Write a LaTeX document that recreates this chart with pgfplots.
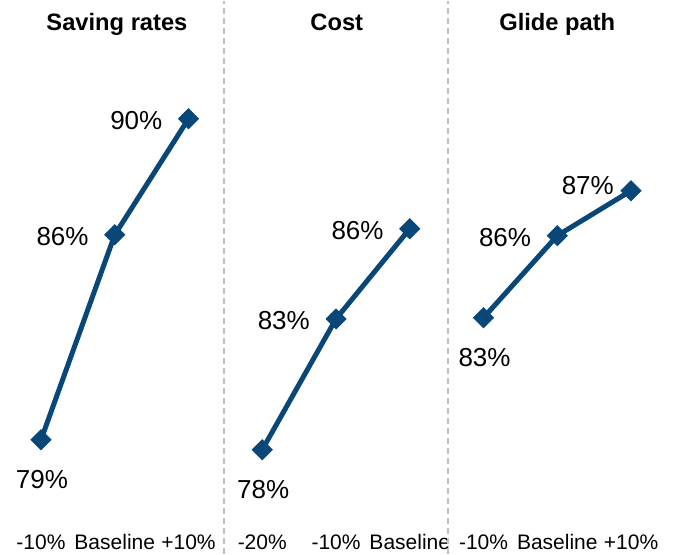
\documentclass[border=0pt]{standalone}
\usepackage{pgfplots}
\pgfplotsset{compat=1.18}
\usepackage{fontspec}
\setmainfont{Liberation Sans}
\definecolor{navy}{HTML}{084777}
\definecolor{sep}{HTML}{BFBFBF}
\begin{document}
\begin{tikzpicture}
\begin{axis}[
  scale only axis, width=687pt, height=553pt,
  xmin=-0.556, xmax=8.759, ymin=74.931, ymax=94.0,
  axis line style={draw=none}, clip=false,
  xtick={0,...,8},
  xticklabels={-10\%,Baseline,+10\%,-20\%,-10\%,Baseline,-10\%,Baseline,+10\%},
  ytick=\empty,
  major tick length=0pt,
  xticklabel style={anchor=base, yshift=4pt, inner sep=0pt, font=\fontsize{21}{25}\selectfont},
  every node near coord/.append style={font=\fontsize{26}{30}\selectfont, inner sep=0pt, text=black},
]
\path (rel axis cs:0,0) rectangle (rel axis cs:1,1);
% separators
\draw[sep, line width=1.5pt, dash pattern=on 6pt off 4pt] (axis cs:2.48,74.931) -- (axis cs:2.48,94.0);
\draw[sep, line width=1.5pt, dash pattern=on 6pt off 4pt] (axis cs:5.52,74.931) -- (axis cs:5.52,94.0);
% titles
\node[anchor=base, font=\fontsize{23.7}{28}\selectfont\bfseries] at (axis cs:1.03,92.97) {Saving rates};
\node[anchor=base, font=\fontsize{23.7}{28}\selectfont\bfseries] at (axis cs:4.01,92.97) {Cost};
\node[anchor=base, font=\fontsize{23.7}{28}\selectfont\bfseries] at (axis cs:7.0,92.97) {Glide path};
% lines
\addplot[navy, line width=5pt, mark=square*, mark size=7pt, mark options={rotate=45, solid, line width=1pt}]
  coordinates {(0,78.86) (1,85.93) (2,89.93)};
\addplot[navy, line width=5pt, mark=square*, mark size=7pt, mark options={rotate=45, solid, line width=1pt}]
  coordinates {(3,78.52) (4,83.03) (5,86.14)};
\addplot[navy, line width=5pt, mark=square*, mark size=7pt, mark options={rotate=45, solid, line width=1pt}]
  coordinates {(6,83.07) (7,85.90) (8,87.45)};
% labels below
\addplot[draw=none, mark=none, point meta=explicit symbolic, nodes near coords,
  every node near coord/.append style={anchor=center, xshift=1pt, yshift=-40pt}]
  coordinates {(0,78.86)[79\%] (3,78.52)[78\%] (6,83.07)[83\%]};
% labels left
\addplot[draw=none, mark=none, point meta=explicit symbolic, nodes near coords,
  every node near coord/.append style={anchor=east, xshift=-26pt, yshift=-2pt}]
  coordinates {(1,85.93)[86\%] (2,89.93)[90\%] (4,83.03)[83\%] (5,86.14)[86\%] (7,85.90)[86\%]};
\addplot[draw=none, mark=none, point meta=explicit symbolic, nodes near coords,
  every node near coord/.append style={anchor=east, xshift=-17pt, yshift=5pt}]
  coordinates {(8,87.45)[87\%]};
\end{axis}
\end{tikzpicture}
\end{document}
